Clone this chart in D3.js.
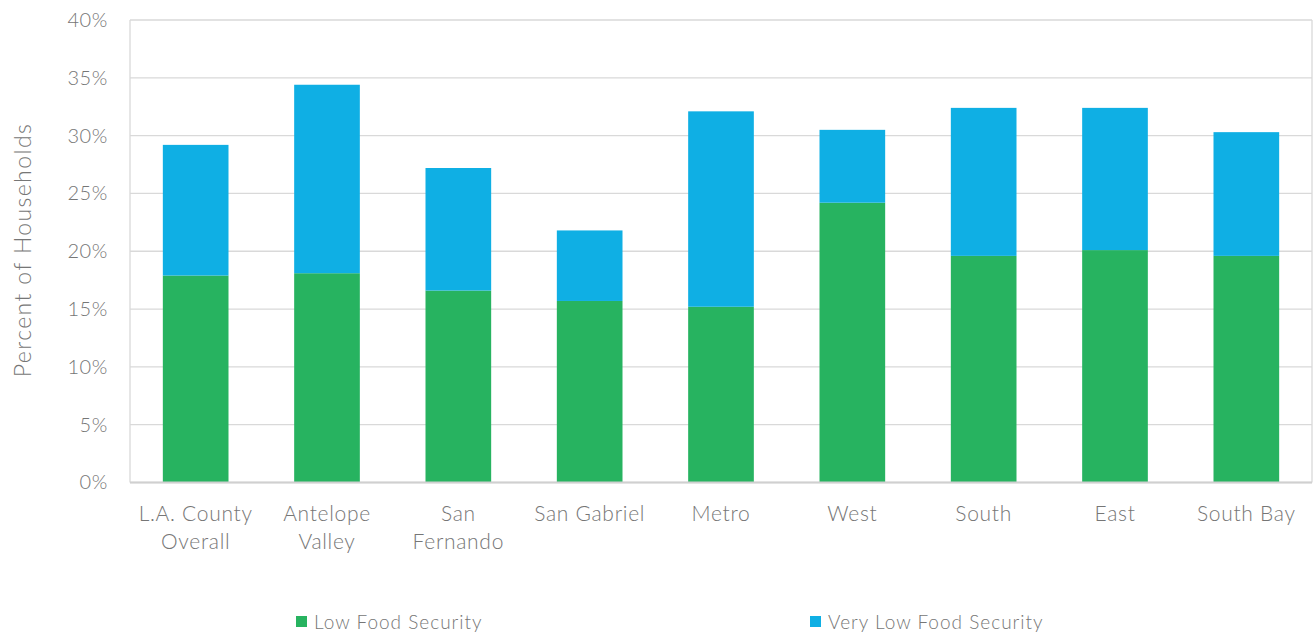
<!DOCTYPE html>
<html><head><meta charset="utf-8">
<script src="https://cdn.jsdelivr.net/npm/d3@7"></script>
<style>
html,body{margin:0;padding:0;background:#fff;}
text{font-family:Lato,"Noto Sans",sans-serif;font-weight:300;fill:#767676;}
</style></head><body>
<svg id="chart" width="1315" height="634"></svg>
<script>
const categories = [["L.A. County","Overall"],["Antelope","Valley"],["San","Fernando"],["San Gabriel"],["Metro"],["West"],["South"],["East"],["South Bay"]];
const lowFood = [17.9, 18.1, 16.6, 15.7, 15.2, 24.2, 19.6, 20.1, 19.6];
const veryLowFood = [11.3, 16.3, 10.6, 6.1, 16.9, 6.3, 12.8, 12.3, 10.7];
const yTicks = [0,5,10,15,20,25,30,35,40];
const seriesNames = ["Low Food Security","Very Low Food Security"];
const colors = ["#27B360","#0FAFE4"];

const svg = d3.select("#chart");
const L=130, R=1312, T=20, B=482.5;
const x = d3.scaleBand().domain(d3.range(categories.length)).range([L,R]).paddingInner(0.5).paddingOuter(0.25);
const y = d3.scaleLinear().domain([0,40]).range([B,T]);

// gridlines
svg.append("g").selectAll("line").data(yTicks).join("line")
  .attr("x1",L).attr("x2",R).attr("y1",d=>y(d)).attr("y2",d=>y(d))
  .attr("stroke","#d9d9d9").attr("stroke-width",1.3);
svg.append("line").attr("x1",L).attr("x2",L).attr("y1",T).attr("y2",B).attr("stroke","#d9d9d9").attr("stroke-width",1.3);
svg.append("line").attr("x1",R).attr("x2",R).attr("y1",T).attr("y2",B).attr("stroke","#d9d9d9").attr("stroke-width",1.3);

const stackData = categories.map((c,i)=>({i, low:lowFood[i], vlow:veryLowFood[i]}));
const stack = d3.stack().keys(["low","vlow"])(stackData);
svg.append("g").selectAll("g").data(stack).join("g").attr("fill",(d,k)=>colors[k])
  .selectAll("rect").data(d=>d).join("rect")
  .attr("x",d=>x(d.data.i)).attr("width",x.bandwidth())
  .attr("y",d=>y(d[1])).attr("height",d=>y(d[0])-y(d[1]));

svg.append("line").attr("x1",L).attr("x2",R).attr("y1",B).attr("y2",B).attr("stroke","#d0d0d0").attr("stroke-width",2);

// y axis
const yAxis = d3.axisLeft(y).tickValues(yTicks).tickFormat(d=>d+"%").tickSize(0).tickPadding(22);
const ga = svg.append("g").attr("transform",`translate(${L},0)`).call(yAxis);
ga.select(".domain").remove();
ga.selectAll("text").style("font-size","20px").style("letter-spacing","0.6px").attr("fill","#767676")
  .style("font-family","Lato, 'Noto Sans', sans-serif").style("font-weight","300");

// x labels
const xl = svg.append("g").selectAll("text").data(categories).join("text")
  .attr("text-anchor","middle").style("font-size","21px").style("letter-spacing","0.7px")
  .attr("x",(d,i)=>x(i)+x.bandwidth()/2).attr("y",521);
xl.selectAll("tspan").data(d=>d).join("tspan")
  .attr("x",function(){return d3.select(this.parentNode).attr("x");})
  .attr("dy",(d,j)=>j===0?0:28).text(d=>d);

// y title
svg.append("text").attr("transform","translate(31,250) rotate(-90)").attr("text-anchor","middle")
  .style("font-size","23px").style("letter-spacing","1.4px").text("Percent of Households");

// legend
const legX=[296,810];
const lg = svg.append("g").selectAll("g").data(seriesNames).join("g")
  .attr("transform",(d,i)=>`translate(${legX[i]},0)`);
lg.append("rect").attr("x",0).attr("y",616).attr("width",11).attr("height",11).attr("fill",(d,i)=>colors[i]);
lg.append("text").attr("x",18).attr("y",629).style("font-size","19px").style("letter-spacing","1px").text(d=>d);
</script>
</body></html>
